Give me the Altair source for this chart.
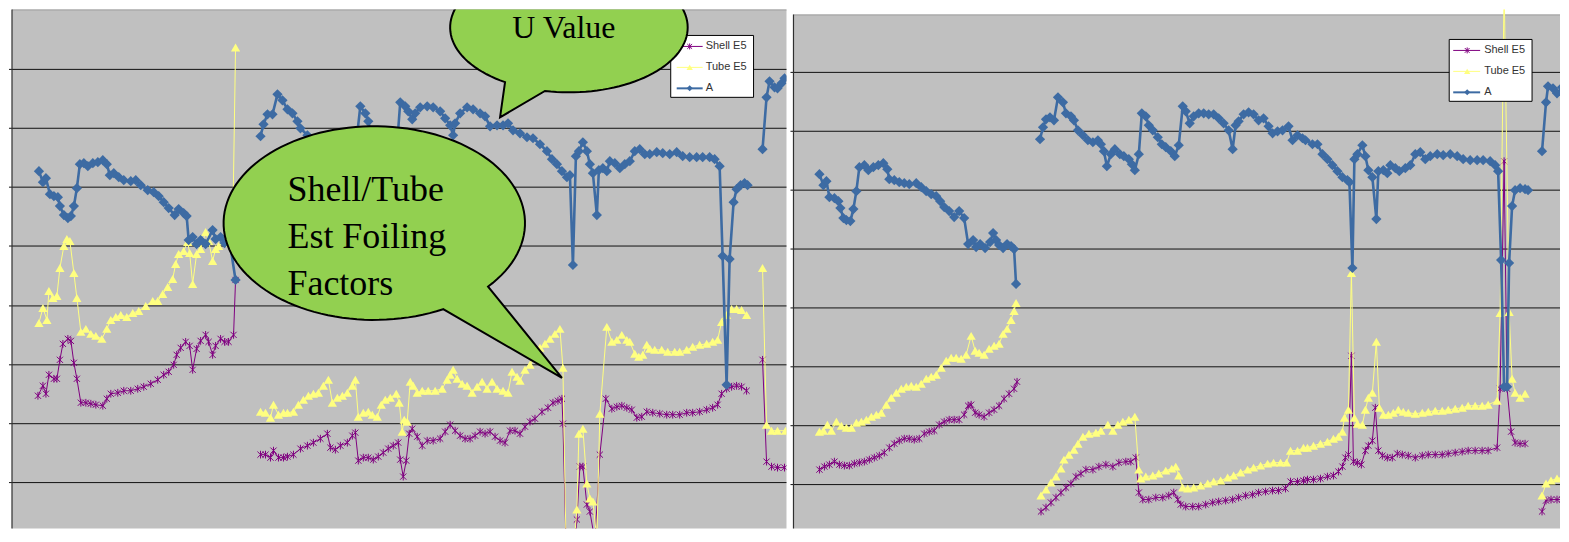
import math
import altair as alt
import pandas as pd

# ---------------- data (None = break in series) -------------
SERIES = ["Shell E5", "Tube E5", "A"]
BUBBLE_TEXT = ["U Value", "Shell/Tube\nEst Foiling\nFactors"]

GRID_LEFT = [60, 119, 178, 237, 297, 356, 415, 474]
GRID_RIGHT = [58, 117, 176, 235, 294, 353, 412, 471]

# ---- left panel ----
L_A_x = [38, 42, 45, 49, 53, 57, 59, 63, 67, 70, 73, 76, 79, 83, 87, 92, 97, 102, 106, 109,
         113, 118, 123, 130, 135, 140, 147, 153, 158, 163, 168, 174, 178, 183, 186, 188, 192, 196, 200, 205,
         212, 215, 220, 224, 229, 235, None,
         260, 263, 267, 272, 277, 282, 287, 292, 297, 300, 307, 312, 320, 330, 340, 350, 356, 360, 365, 368,
         372, 380, 390, 397, 400, 405, 408, 412, 415, 420, 427, 433, 440, 445, 450, 453, 455, 460, 467, 473,
         480, 485, 490, 497, 503, 508, 513, 520, 527, 533, 540, 547, 552, 557, 562, 567, 570, 573, 576, 579,
         583, 587, 590, 593, 597, 599, 603, 607, 610, 615, 620, 625, 630, 635, 640, 645, 650, 657, 663, 670,
         677, 683, 690, 697, 703, 710, 715, 720, 723, 727, 730, 734, 737, 741, 745, 748, None,
         763, 767, 770, 775, 778, 782, 785]
L_A_v = [372, 361, 365, 349, 347, 346, 337, 328, 325, 327, 337, 355, 379, 380, 377, 380, 381, 383, 379, 368,
         370, 366, 363, 362, 363, 358, 353, 351, 347, 341, 335, 328, 334, 330, 327, 303, 306, 299, 303, 299,
         313, 304, 306, 300, 302, 263, None,
         407, 419, 429, 429, 449, 443, 434, 430, 422, 415, 408, 404, 399, 395, 393, 394, 401, 437, 430, 422,
         401, 393, 391, 401, 441, 437, 432, 424, 430, 436, 437, 436, 432, 425, 418, 408, 420, 430, 436, 434,
         430, 427, 417, 418, 418, 420, 413, 410, 406, 405, 399, 392, 384, 379, 372, 366, 368, 278, 387, 392,
         401, 392, 379, 370, 328, 373, 375, 372, 382, 380, 375, 379, 382, 392, 394, 389, 389, 391, 390, 389,
         391, 387, 386, 386, 386, 386, 384, 377, 287, 158, 284, 341, 354, 358, 360, 358, None,
         394, 446, 462, 456, 455, 460, 465]

L_T_x = [38, 42, 46, 48, 52, 56, 59, 63, 66, 69, 73, 76, 80, 85, 90, 95, 101, 106, 110, 115,
         120, 126, 132, 138, 145, 152, 157, 162, 167, 172, 175, 178, 183, 187, 189, 192, 196, 200, 205, 208,
         212, 215, 218, 223, 228, 232, 235, None,
         260, 265, 270, 273, 278, 283, 287, 293, 298, 303, 308, 313, 318, 323, 328, 332, 337, 342, 347, 352,
         355, 358, 363, 368, 372, 377, 381, 385, 390, 396, 399, 402, 404, 407, 410, 413, 417, 422, 428, 435,
         442, 447, 450, 453, 457, 462, 467, 472, 477, 482, 487, 492, 497, 503, 508, 512, 517, 520, 525, 530,
         535, 540, 545, 550, 555, 560, 563, 566, 571, 577, 579, 583, 587, 590, 593, 597, 600, 607, 612, 617,
         622, 627, 630, 635, 639, 643, 647, 650, 655, 662, 668, 675, 680, 687, 693, 700, 707, 713, 718, 722,
         727, 732, 737, 742, 747, None,
         763, 767, 772, 778, 786]
L_T_v = [220, 235, 223, 252, 245, 247, 275, 297, 304, 302, 270, 245, 211, 214, 209, 207, 204, 214, 223, 226,
         228, 226, 230, 232, 237, 242, 242, 249, 256, 264, 279, 289, 292, 301, 290, 259, 289, 294, 311, 302,
         282, 294, 297, 302, 300, 305, 496, None,
         131, 130, 125, 138, 128, 130, 130, 131, 138, 143, 147, 149, 150, 157, 163, 140, 145, 147, 150, 157,
         163, 126, 130, 131, 128, 126, 138, 143, 145, 149, 140, 111, 123, 121, 161, 157, 150, 152, 152, 152,
         154, 163, 168, 173, 164, 159, 157, 150, 156, 161, 154, 161, 154, 152, 150, 171, 166, 162, 173, 178,
         185, 195, 199, 204, 209, 214, 175, 4, -40, 33, 109, 114, 59, 44, 41, 3, 129, 216, 201, 203,
         208, 203, 201, 189, 186, 188, 198, 194, 193, 193, 191, 191, 191, 193, 196, 198, 199, 201, 203, 221,
         228, 234, 234, 233, 228, None,
         275, 118, 112, 112, 112]

L_S_x = [37, 42, 45, 48, 53, 56, 59, 62, 67, 70, 73, 76, 80, 85, 90, 95, 102, 106, 110, 117,
         123, 130, 137, 143, 150, 157, 163, 168, 173, 176, 180, 185, 189, 192, 196, 200, 205, 208, 212, 215,
         220, 224, 228, 233, 235, None,
         260, 265, 270, 273, 278, 283, 287, 293, 300, 307, 313, 320, 327, 330, 335, 340, 347, 352, 355, 358,
         363, 368, 373, 378, 383, 388, 393, 398, 400, 403, 406, 409, 412, 417, 422, 427, 433, 440, 445, 450,
         455, 460, 465, 470, 475, 480, 485, 490, 495, 500, 505, 510, 515, 520, 525, 530, 535, 542, 548, 553,
         558, 562, 563, 566, 571, 577, 580, 583, 587, 590, 595, 600, 606, 612, 617, 622, 627, 632, 637, 642,
         647, 653, 660, 667, 673, 680, 687, 693, 700, 707, 713, 718, 722, 727, 732, 737, 742, 747, None,
         763, 767, 772, 778, 785]
L_S_v = [147, 157, 149, 168, 164, 164, 183, 199, 204, 202, 180, 164, 140, 140, 139, 138, 137, 144, 149, 150,
         152, 152, 154, 156, 159, 163, 168, 171, 178, 188, 195, 201, 197, 173, 194, 202, 208, 201, 188, 197,
         204, 201, 201, 208, 263, None,
         88, 88, 85, 92, 85, 85, 86, 88, 94, 97, 100, 104, 109, 95, 93, 97, 100, 107, 110, 82,
         85, 85, 83, 86, 90, 94, 97, 100, 83, 66, 82, 109, 114, 106, 97, 102, 102, 104, 111, 118,
         112, 107, 104, 104, 107, 111, 109, 111, 106, 102, 100, 112, 112, 109, 116, 121, 124, 131, 135, 140,
         142, 144, 119, 2, -40, 23, 76, 76, 38, 31, 2, 88, 144, 134, 136, 137, 135, 133, 125, 126,
         131, 130, 129, 128, 128, 128, 130, 130, 131, 133, 135, 138, 149, 154, 156, 157, 156, 152, None,
         183, 81, 76, 75, 75]

# ---- right panel ----
R_A_x = [818, 822, 825, 828, 833, 837, 839, 842, 845, 849, 852, 855, 858, 863, 867, 872, 877, 882, 886, 888,
         893, 898, 903, 908, 915, 920, 925, 930, 935, 939, 943, 948, 953, 958, 963, 967, 972, 975, 979, 984,
         989, 992, 995, 998, 1002, 1006, 1010, 1013, 1015, None,
         1039, 1042, 1045, 1049, 1053, 1057, 1062, 1065, 1070, 1073, 1077, 1082, 1087, 1092, 1097, 1100, 1103,
         1106, 1110, 1114, 1119, 1123, 1128, 1131, 1134, 1138, 1141, 1145, 1148, 1152, 1157, 1161, 1165, 1170,
         1174, 1178, 1182, 1185, 1189, 1193, 1198, 1203, 1208, 1213, 1218, 1223, 1228, 1232, 1235, 1238, 1243,
         1248, 1253, 1258, 1263, 1268, 1272, 1277, 1282, 1288, 1292, 1297, 1302, 1305, 1312, 1317, 1322, 1327,
         1332, 1337, 1342, 1347, 1349, 1352, 1354, 1357, 1362, 1365, 1368, 1372, 1376, 1378, 1383, 1387, 1390,
         1395, 1399, 1405, 1410, 1415, 1420, 1425, 1430, 1437, 1443, 1450, 1457, 1463, 1470, 1477, 1483, 1490,
         1495, 1498, 1501, 1504, 1507, 1509, 1512, 1515, 1520, 1525, 1528, None,
         1542, 1546, 1548, 1553, 1557, 1562, 1565]
R_A_v = [369, 358, 362, 346, 345, 342, 335, 325, 323, 322, 334, 352, 376, 378, 373, 376, 378, 380, 374, 364,
         363, 361, 360, 359, 360, 356, 352, 349, 347, 342, 336, 332, 326, 332, 325, 299, 303, 296, 299, 295,
         301, 310, 303, 298, 295, 299, 297, 294, 259, None,
         404, 416, 424, 426, 423, 446, 441, 430, 427, 423, 413, 408, 403, 401, 403, 399, 392,
         377, 389, 394, 389, 387, 384, 379, 373, 389, 430, 427, 418, 413, 406, 399, 396, 392,
         387, 398, 437, 432, 420, 427, 430, 430, 429, 429, 425, 420, 413, 394, 418, 422, 429,
         431, 429, 423, 425, 417, 410, 412, 413, 417, 403, 408, 405, 403, 399, 399, 389, 384,
         378, 372, 366, 363, 361, 275, 384, 389, 398, 387, 373, 366, 324, 372, 373, 370, 378,
         375, 372, 375, 378, 389, 391, 384, 387, 389, 388, 389, 387, 384, 383, 383, 383, 382,
         378, 372, 283, 156, 156, 280, 337, 353, 355, 354, 353, None,
         392, 441, 457, 455, 450, 456, 462]

R_T_x = [818, 822, 826, 830, 835, 840, 845, 850, 855, 860, 865, 870, 875, 880, 885, 890, 895, 900, 905, 910,
         915, 920, 925, 930, 935, 940, 945, 950, 955, 960, 965, 970, 974, 978, 983, 988, 993, 998, 1002, 1006,
         1010, 1013, 1015, None,
         1040, 1045, 1050, 1055, 1060, 1063, 1068, 1073, 1077, 1082, 1088, 1095, 1100, 1107, 1112, 1117, 1122,
         1128, 1134, 1138, 1140, 1145, 1152, 1158, 1165, 1171, 1175, 1178, 1182, 1187, 1193, 1200, 1207, 1213,
         1220, 1227, 1233, 1240, 1247, 1253, 1260, 1267, 1273, 1280, 1286, 1290, 1297, 1303, 1307, 1313, 1320,
         1327, 1333, 1338, 1342, 1344, 1348, 1351, 1354, 1357, 1362, 1365, 1368, 1372, 1376, 1379, 1383, 1388,
         1393, 1398, 1403, 1408, 1415, 1422, 1428, 1435, 1442, 1448, 1455, 1462, 1468, 1475, 1482, 1488, 1497,
         1500, 1504, 1509, 1512, 1515, 1520, 1525, None,
         1542, 1546, 1551, 1557, 1562, 1565]
R_T_v = [111, 112, 118, 112, 121, 117, 115, 115, 120, 121, 123, 126, 128, 130, 138, 145, 150, 154, 156, 157,
         156, 159, 164, 166, 168, 175, 182, 185, 185, 184, 188, 207, 192, 190, 188, 194, 197, 199, 209, 214,
         223, 232, 240, None,
         47, 53, 60, 66, 74, 83, 88, 93, 99, 106, 109, 110, 112, 118, 112, 118, 121,
         123, 126, 73, 64, 66, 67, 69, 72, 74, 76, 67, 55, 54, 55, 57, 59, 61,
         62, 65, 67, 70, 73, 75, 77, 79, 80, 80, 80, 92, 92, 95, 95, 97, 99,
         101, 104, 106, 111, 125, 133, 270, 125, 119, 118, 133, 145, 150, 201, 135, 128, 128,
         130, 133, 131, 130, 129, 130, 131, 132, 132, 133, 134, 135, 137, 137, 137, 138, 142,
         230, 560, 231, 164, 150, 145, 149, None,
         47, 59, 62, 64, 65, 62]

R_S_x = [818, 823, 828, 833, 838, 843, 848, 853, 858, 863, 868, 873, 878, 883, 888, 893, 898, 903, 908, 913,
         918, 923, 928, 933, 938, 943, 948, 953, 958, 963, 967, 970, 974, 978, 983, 988, 993, 998, 1003, 1008,
         1013, 1016, None,
         1040, 1045, 1050, 1055, 1060, 1065, 1070, 1075, 1080, 1085, 1092, 1098, 1105, 1112, 1118, 1125, 1130,
         1135, 1138, 1142, 1148, 1155, 1162, 1168, 1173, 1177, 1180, 1185, 1192, 1198, 1205, 1212, 1218, 1225,
         1232, 1238, 1245, 1252, 1258, 1265, 1272, 1278, 1285, 1290, 1297, 1303, 1307, 1313, 1320, 1327, 1333,
         1338, 1342, 1345, 1348, 1351, 1353, 1357, 1361, 1365, 1368, 1372, 1375, 1378, 1382, 1387, 1392, 1397,
         1402, 1408, 1415, 1422, 1428, 1435, 1442, 1448, 1455, 1462, 1468, 1475, 1482, 1488, 1497, 1500, 1504,
         1507, 1511, 1515, 1520, 1525, None,
         1542, 1546, 1551, 1557, 1562, 1565]
R_S_v = [73, 76, 78, 81, 78, 77, 77, 79, 80, 81, 83, 85, 87, 90, 95, 99, 102, 104, 104, 103,
         104, 109, 111, 112, 118, 121, 123, 123, 123, 128, 137, 138, 130, 128, 126, 130, 133, 137, 144, 149,
         154, 161, None,
         31, 35, 40, 45, 50, 55, 59, 66, 69, 73, 73, 76, 78, 76, 80, 81, 81,
         85, 50, 43, 43, 45, 45, 47, 50, 43, 38, 36, 36, 36, 38, 40, 41, 42,
         43, 45, 47, 48, 50, 51, 52, 52, 54, 61, 61, 62, 63, 63, 64, 66, 67,
         71, 76, 85, 88, 187, 81, 80, 78, 92, 97, 102, 135, 92, 87, 85, 85, 89,
         88, 87, 85, 87, 88, 88, 88, 89, 90, 91, 92, 92, 92, 92, 95, 154, 382,
         154, 111, 100, 99, 99, None,
         31, 42, 43, 43, 43, 42]

# ---------------- styling ----------------
W_L = 776
W_R = 768
H = 520
V_MAX = 534
BG = "#c0c0c0"
COL = {"Shell E5": "#800080", "Tube E5": "#ffff80", "A": "#3d6ba3"}
LW = {"Shell E5": 1, "Tube E5": 1, "A": 2.6}
STAR = "M-0.8,-0.8L0.8,0.8M-0.8,0.8L0.8,-0.8M0,-1L0,1"
SHAPE = {"Shell E5": STAR, "Tube E5": "triangle-up", "A": "diamond"}
MSIZE = {"Shell E5": 60, "Tube E5": 85, "A": 105}
LSIZE = {"Shell E5": 36, "Tube E5": 40, "A": 36}
FILLED = {"Shell E5": False, "Tube E5": True, "A": True}


def to_df(xs, vs):
    rows, seg = [], 0
    for x, v in zip(xs, vs):
        if x is None:
            seg += 1
            continue
        rows.append({"x": x, "v": v, "seg": seg})
    return pd.DataFrame(rows)


def bubble_path(rx, ry, bx1, bx2, tip):
    t1, t2 = math.acos(bx1 / rx), math.acos(bx2 / rx)
    start, end = max(t1, t2), min(t1, t2) + 2 * math.pi
    n = 120
    pts = []
    for i in range(n + 1):
        t = start + (end - start) * i / n
        pts.append(f"{rx * math.cos(t):.2f},{ry * math.sin(t):.2f}")
    return "M" + " L".join(pts) + f" L{tip[0]:.2f},{tip[1]:.2f} Z"


ONE = alt.Data(values=[{}])


def panel(xdom, W, top, grid, data, legend, bubbles):
    xs = alt.Scale(domain=xdom, nice=False, zero=False)
    ys = alt.Scale(domain=[0, V_MAX], range=[V_MAX, 0], nice=False, zero=False)
    X = alt.X("x:Q", scale=xs, axis=None)
    Y = alt.Y("v:Q", scale=ys, axis=None)
    layers = []
    layers.append(alt.Chart(ONE).mark_rect(color=BG).encode(
        x=alt.value(0), x2=alt.value(W), y=alt.value(top), y2=alt.value(H)))
    gdf = pd.DataFrame({"v": grid})
    layers.append(alt.Chart(gdf).mark_rule(color="#111111", strokeWidth=1).encode(
        y=Y, x=alt.value(0), x2=alt.value(W)))
    layers.append(alt.Chart(gdf).mark_rule(color="#111111", strokeWidth=1).encode(
        y=Y, x=alt.value(-3), x2=alt.value(0)))
    layers.append(alt.Chart(ONE).mark_rule(color="#a0a0a0", strokeWidth=1).encode(
        y=alt.value(top + 0.5), x=alt.value(0), x2=alt.value(W)))
    layers.append(alt.Chart(ONE).mark_rule(color="#303030", strokeWidth=1.2).encode(
        x=alt.value(0), y=alt.value(top), y2=alt.value(H)))
    for name, (sx, sv) in zip(SERIES, data):
        df = to_df(sx, sv)
        layers.append(alt.Chart(df).mark_line(color=COL[name], strokeWidth=LW[name], clip=True).encode(
            x=X, y=Y, detail="seg:N"))
        if FILLED[name]:
            pt = alt.Chart(df).mark_point(shape=SHAPE[name], size=MSIZE[name], filled=True,
                                          color=COL[name], opacity=1, clip=True)
        else:
            pt = alt.Chart(df).mark_point(shape=SHAPE[name], size=MSIZE[name], filled=False,
                                          color=COL[name], strokeWidth=1, opacity=1, clip=True)
        layers.append(pt.encode(x=X, y=Y))
    # legend
    bx0, by0, bx1, by1, ly0, dy, lx0, lx1, mx, tx = legend
    layers.append(alt.Chart(ONE).mark_rect(fill="white", stroke="black", strokeWidth=1).encode(
        x=alt.value(bx0), x2=alt.value(bx1), y=alt.value(by0), y2=alt.value(by1)))
    for i, name in enumerate(SERIES):
        yy = ly0 + i * dy
        layers.append(alt.Chart(ONE).mark_rule(color=COL[name], strokeWidth=min(LW[name], 2)).encode(
            x=alt.value(lx0), x2=alt.value(lx1), y=alt.value(yy)))
        if FILLED[name]:
            lp = alt.Chart(ONE).mark_point(shape=SHAPE[name], size=LSIZE[name], filled=True,
                                           color=COL[name], opacity=1)
        else:
            lp = alt.Chart(ONE).mark_point(shape=SHAPE[name], size=LSIZE[name], filled=False,
                                           color=COL[name], strokeWidth=1, opacity=1)
        layers.append(lp.encode(x=alt.value(mx), y=alt.value(yy)))
        layers.append(alt.Chart(alt.Data(values=[{"label": name}])).mark_text(
            align="left", baseline="middle", font="Liberation Sans", fontSize=11, color="#333333").encode(
            x=alt.value(tx), y=alt.value(yy), text="label:N"))
    # callout bubbles
    for (cx, cy, rx, ry, b1, b2, tip, label, tx_, ty_, fs, al) in bubbles:
        layers.append(alt.Chart(ONE).mark_point(
            shape=bubble_path(rx, ry, b1, b2, tip), size=4, filled=True, fill="#92d050",
            stroke="black", strokeWidth=2, opacity=1, clip=True).encode(
            x=alt.value(cx), y=alt.value(cy)))
        layers.append(alt.Chart(alt.Data(values=[{"label": label}])).mark_text(
            align=al, baseline="alphabetic", font="Liberation Serif", fontSize=fs,
            color="black", lineBreak="\n", lineHeight=47, clip=True).encode(
            x=alt.value(tx_), y=alt.value(ty_), text="label:N"))
    return alt.layer(*layers).properties(width=W, height=H)


left = panel(
    [11, 787], W_L, 0, GRID_LEFT,
    [(L_S_x, L_S_v), (L_T_x, L_T_v), (L_A_x, L_A_v)],
    (660, 26, 743, 88, 37, 21, 666, 692, 679, 695),
    [(558, 18, 119, 65, -64, -24, (-69, 90), BUBBLE_TEXT[0], 553, 29, 32, "center"),
     (363, 214, 151, 97, 69, 114, (188, 155), BUBBLE_TEXT[1], 276, 192, 36, "left")],
)
right = panel(
    [792, 792 + W_R], W_R, 5, GRID_RIGHT,
    [(R_S_x, R_S_v), (R_T_x, R_T_v), (R_A_x, R_A_v)],
    (657, 30, 740, 92, 41, 21, 661, 688, 675, 692),
    [],
)

chart = alt.hconcat(left, right, spacing=2).configure_view(stroke=None).properties(
    padding=0, background="white")

chart.save("out.html", embed_options={"renderer": "svg", "actions": False})
